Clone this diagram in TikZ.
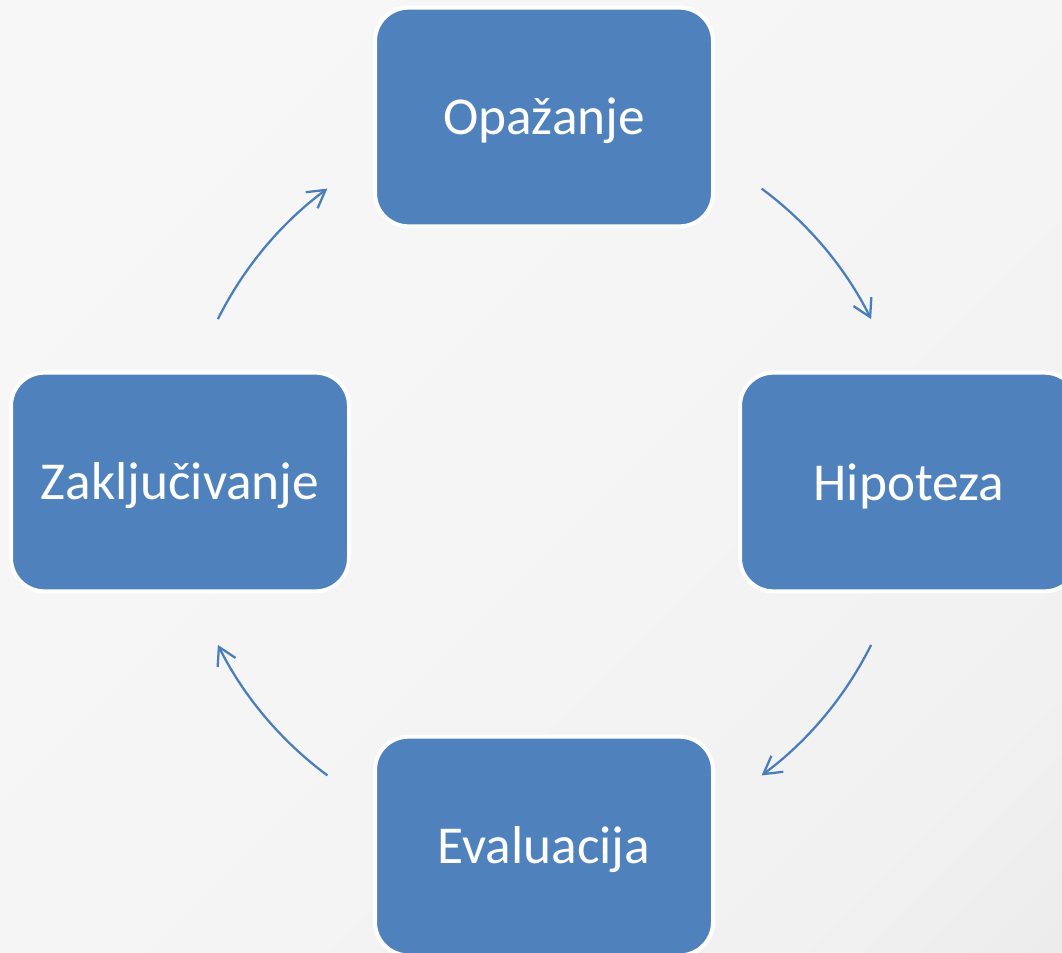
\documentclass[tikz,border=0pt]{standalone}
\usepackage{fontspec}
\setmainfont{Carlito}
\usetikzlibrary{arrows.meta,calc}
\definecolor{boxblue}{HTML}{4F81BD}
\definecolor{arrblue}{HTML}{4A7EBB}
\definecolor{bgA}{HTML}{D6D6D6}
\definecolor{bgB}{HTML}{DEDEDE}
\definecolor{bgC}{HTML}{E6E6E6}
\definecolor{bgD}{HTML}{F1F1F1}
\definecolor{bgE}{HTML}{F5F5F5}
\definecolor{bgF}{HTML}{FAFAFA}
\pgfdeclareverticalshading{bgshade}{100bp}{color(0bp)=(bgA); color(8bp)=(bgB); color(17bp)=(bgC); color(32bp)=(bgD); color(50bp)=(bgE); color(100bp)=(bgF)}
\tikzset{
  stagebox/.style={rectangle, rounded corners=25pt, fill=boxblue, draw=white,
    line width=3pt, minimum width=253.5pt, minimum height=164pt,
    text=white, font=\fontsize{40}{48}\selectfont, inner sep=0pt},
  cyclearrow/.style={draw=arrblue, line width=1.7pt,
    -{Straight Barb[length=13pt,width=15pt,line width=1.7pt]}}
}
\newcommand{\lowtext}[1]{\raisebox{-3pt}[\height][\depth]{#1}}
\begin{document}
\begin{tikzpicture}[x=0.75pt,y=-0.75pt]
\useasboundingbox (0,0) rectangle (1062,952);
\begin{scope}
\clip (0,0) rectangle (1062,952);
\begin{scope}[transform canvas={rotate around={45:(531,476)}}]
\shade[shading=bgshade] (-181,-236) rectangle (1243,1188);
\end{scope}
\end{scope}
\coordinate (c) at (544.5,482);
\node[stagebox] (obs) at (544,117) {\lowtext{Opažanje}};
\node[stagebox] (hyp) at (909,482) {\lowtext{Hipoteza}};
\node[stagebox] (eva) at (544,846) {\lowtext{Evaluacija}};
\node[stagebox] (zak) at (180,482) {\lowtext{Zaključivanje}};
\coordinate (a1) at ($(c)+(-53.5:365)$);
\coordinate (a2) at ($(c)+(26.5:365)$);
\coordinate (a3) at ($(c)+(126.5:365)$);
\coordinate (a4) at ($(c)+(206.5:365)$);
\draw[cyclearrow] (a1) arc[start angle=-53.5, end angle=-26.5, radius=365];
\draw[cyclearrow] (a2) arc[start angle=26.5, end angle=53.5, radius=365];
\draw[cyclearrow] (a3) arc[start angle=126.5, end angle=153.5, radius=365];
\draw[cyclearrow] (a4) arc[start angle=206.5, end angle=233.5, radius=365];
\end{tikzpicture}
\end{document}
